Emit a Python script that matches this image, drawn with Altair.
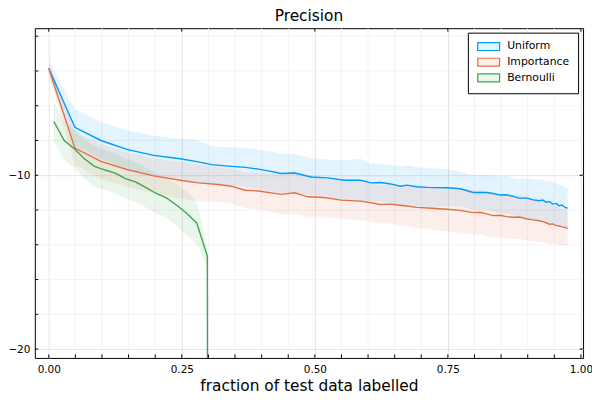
import altair as alt
import pandas as pd

# ---------------- data ----------------
series_names = ["Uniform", "Importance", "Bernoulli"]
line_colors = ["#009AFA", "#E36F47", "#3EA44E"]
band_colors = ["#E3F4FE", "#FCEFEB", "#EAF5EC"]
title_text = ["Precision"]

uniform_x = [0.0, 0.049, 0.098, 0.147, 0.197, 0.247, 0.276, 0.306, 0.343, 0.37,
             0.394, 0.412, 0.437, 0.462, 0.493, 0.524, 0.555, 0.586, 0.605, 0.624,
             0.642, 0.661, 0.673, 0.692, 0.711, 0.748, 0.773, 0.798, 0.823, 0.835,
             0.848, 0.86, 0.873, 0.885, 0.897, 0.91, 0.922, 0.928, 0.935, 0.941,
             0.947, 0.953, 0.959, 0.965, 0.97, 0.975]
uniform_y = [-3.84, -7.24, -8.0, -8.51, -8.86, -9.05, -9.2, -9.39, -9.49, -9.55,
             -9.65, -9.75, -9.9, -9.87, -10.1, -10.15, -10.29, -10.29, -10.44, -10.42,
             -10.5, -10.63, -10.57, -10.66, -10.7, -10.72, -10.78, -10.99, -10.99, -11.05,
             -11.14, -11.12, -11.22, -11.33, -11.3, -11.42, -11.47, -11.43, -11.55, -11.52,
             -11.66, -11.62, -11.75, -11.72, -11.85, -11.9]
uniform_spread = [0.4, 1.05, 1.05, 1.1, 1.15, 1.15, 1.25, 1.06, 1.1, 1.12,
                  1.12, 1.14, 1.14, 1.1, 1.08, 1.05, 1.15, 1.24, 1.1, 1.07,
                  1.1, 1.14, 1.14, 1.12, 1.12, 1.05, 1.0, 0.99, 1.0, 1.05,
                  1.06, 1.08, 1.06, 1.1, 1.15, 1.18, 1.2, 1.22, 1.2, 1.22,
                  1.24, 1.2, 1.18, 1.15, 1.14, 1.14]

importance_x = [0.0, 0.049, 0.098, 0.147, 0.197, 0.247, 0.281, 0.319, 0.343, 0.369,
                0.394, 0.437, 0.462, 0.487, 0.518, 0.549, 0.586, 0.624, 0.642, 0.655,
                0.673, 0.692, 0.72, 0.748, 0.773, 0.798, 0.81, 0.823, 0.835, 0.848,
                0.86, 0.873, 0.885, 0.897, 0.91, 0.922, 0.93, 0.941, 0.947, 0.953,
                0.959, 0.965, 0.97, 0.975]
importance_y = [-3.84, -8.44, -9.2, -9.67, -10.04, -10.29, -10.44, -10.53, -10.63, -10.86,
                -10.91, -11.1, -11.01, -11.24, -11.28, -11.43, -11.49, -11.68, -11.66, -11.71,
                -11.77, -11.85, -11.9, -11.96, -12.02, -12.15, -12.13, -12.22, -12.32, -12.3,
                -12.38, -12.42, -12.4, -12.5, -12.57, -12.62, -12.68, -12.82, -12.8, -12.88,
                -12.92, -12.97, -13.0, -13.07]
importance_spread = [0.3, 0.95, 1.0, 1.0, 1.0, 1.05, 1.05, 1.0, 1.0, 1.02,
                     1.05, 1.15, 1.24, 1.15, 1.1, 1.1, 1.09, 1.1, 1.12, 1.15,
                     1.14, 1.2, 1.25, 1.28, 1.28, 1.27, 1.28, 1.28, 1.28, 1.26,
                     1.26, 1.25, 1.26, 1.26, 1.24, 1.2, 1.18, 1.15, 1.12, 1.1,
                     1.08, 1.05, 1.04, 1.03]

bernoulli_x = [0.0096, 0.029, 0.048, 0.067, 0.086, 0.106, 0.125, 0.144, 0.163, 0.182,
               0.202, 0.221, 0.24, 0.259, 0.278, 0.298, 0.2985]
bernoulli_y = [-6.91, -8.0, -8.47, -9.05, -9.49, -9.7, -9.88, -10.19, -10.38, -10.7,
               -11.05, -11.3, -11.71, -12.19, -12.74, -14.65, -25.0]
bernoulli_spread = [1.1, 1.14, 1.1, 1.12, 1.18, 1.15, 1.15, 1.15, 1.15, 1.14,
                    1.14, 1.15, 1.2, 1.25, 1.2, 0.6]

x_ticks = [0.0, 0.05, 0.1, 0.15, 0.2, 0.25, 0.3, 0.35, 0.4, 0.45, 0.5,
           0.55, 0.6, 0.65, 0.7, 0.75, 0.8, 0.85, 0.9, 0.95, 1.0]
x_major = [0.0, 0.25, 0.5, 0.75, 1.0]
y_ticks = [-2, -4, -6, -8, -10, -12, -14, -16, -18, -20]
y_major = [-10, -20]

# ---------------- tables ----------------
line_rows, band_rows = [], []
for name, xs_, ys_, sp in [("Uniform", uniform_x, uniform_y, uniform_spread),
                           ("Importance", importance_x, importance_y, importance_spread),
                           ("Bernoulli", bernoulli_x, bernoulli_y, bernoulli_spread)]:
    for i, (xv, yv) in enumerate(zip(xs_, ys_)):
        line_rows.append({"series": name, "x": xv, "y": yv})
        if i < len(sp):
            band_rows.append({"series": name, "x": xv, "lo": yv - sp[i], "hi": yv + sp[i]})
line_df = pd.DataFrame(line_rows)
band_df = pd.DataFrame(band_rows)
x_minor_df = pd.DataFrame({"x": [v for v in x_ticks if v not in x_major]})
y_minor_df = pd.DataFrame({"y": [v for v in y_ticks if v not in y_major]})

W, H = 552, 332
XT = "fraction of test data labelled"
xs = alt.Scale(domain=[-0.0262, 1.004], nice=False, zero=False)
ys = alt.Scale(domain=[-20.51, -1.54], nice=False, zero=False)
color_scale = alt.Scale(domain=series_names, range=line_colors)

x_axis = alt.Axis(values=x_major, format=".2f", grid=True, labelPadding=7,
                  labelOverlap=False, labelFlush=False, titlePadding=3)
y_axis = alt.Axis(values=y_major, grid=True, labelPadding=5,
                  labelOverlap=False, labelFlush=False)

leg = alt.Legend(
    title=None, orient="none", legendX=436, legendY=4.5,
    symbolType="M-1,-1L4.5,-1L4.5,1L-1,1Z", symbolSize=64, symbolStrokeWidth=1.2,
    symbolOpacity=1, labelOffset=20.2, labelFontSize=10.9, labelFont="DejaVu Sans",
    labelColor="black", padding=8.5, rowPadding=2.8, strokeColor="black",
    fillColor="white", cornerRadius=0,
)

# layer with no rows that only carries the legend (light fill, coloured outline)
legend_layer = alt.Chart(line_df).transform_filter("false").mark_point(filled=True).encode(
    x=alt.X("x:Q", scale=xs, axis=x_axis, title=XT),
    y=alt.Y("y:Q", scale=ys, axis=y_axis, title=None),
    fill=alt.Fill("series:N", scale=alt.Scale(domain=series_names, range=band_colors), legend=leg),
    stroke=alt.Stroke("series:N", scale=alt.Scale(domain=series_names, range=line_colors), legend=leg),
)

x_minor = alt.Chart(x_minor_df).mark_rule(color="#f0f0f0", strokeWidth=0.8).encode(
    x=alt.X("x:Q", scale=xs, title=XT))
y_minor = alt.Chart(y_minor_df).mark_rule(color="#f0f0f0", strokeWidth=0.8).encode(
    y=alt.Y("y:Q", scale=ys, title=None))

band = alt.Chart(band_df).mark_area(fillOpacity=0.11, clip=True).encode(
    x=alt.X("x:Q", scale=xs, title=XT),
    y=alt.Y("lo:Q", scale=ys, title=None),
    y2="hi:Q",
    color=alt.Color("series:N", scale=color_scale, legend=None),
)

lines = alt.Chart(line_df).mark_line(strokeWidth=1.4, clip=True).encode(
    x=alt.X("x:Q", scale=xs, title=XT),
    y=alt.Y("y:Q", scale=ys, title=None),
    color=alt.Color("series:N", scale=color_scale, legend=None),
)

tick_len = 3.5
bottom_ticks = alt.Chart(pd.DataFrame({"x": x_ticks})).mark_rule(color="black", strokeWidth=1).encode(
    x=alt.X("x:Q", scale=xs, title=XT), y=alt.value(H), y2=alt.value(H - tick_len))
top_ticks = alt.Chart(pd.DataFrame({"x": x_major})).mark_rule(color="black", strokeWidth=1).encode(
    x=alt.X("x:Q", scale=xs, title=XT), y=alt.value(0), y2=alt.value(tick_len))
left_ticks = alt.Chart(pd.DataFrame({"y": y_ticks})).mark_rule(color="black", strokeWidth=1).encode(
    y=alt.Y("y:Q", scale=ys, title=None), x=alt.value(0), x2=alt.value(tick_len))
right_ticks = alt.Chart(pd.DataFrame({"y": y_major})).mark_rule(color="black", strokeWidth=1).encode(
    y=alt.Y("y:Q", scale=ys, title=None), x=alt.value(W), x2=alt.value(W - tick_len))

title_mark = alt.Chart(pd.DataFrame({"t": title_text})).mark_text(
    fontSize=15.5, font="DejaVu Sans", align="center", baseline="alphabetic", color="black"
).encode(text="t:N", x=alt.value(W / 2), y=alt.value(-7.3))

chart = alt.layer(legend_layer, x_minor, y_minor, band, lines, bottom_ticks, top_ticks,
                  left_ticks, right_ticks, title_mark).properties(
    width=W, height=H,
    padding={"left": 27, "top": 19, "right": 9, "bottom": 38},
    autosize="none",
).configure_view(stroke="black", strokeWidth=1).configure_axis(
    domain=False, ticks=False, labelFont="DejaVu Sans", labelFontSize=10.5, labelColor="black",
    titleFont="DejaVu Sans", titleFontSize=15.5, titleFontWeight="normal", titleColor="black",
    gridWidth=0.8, gridColor="#dedede",
)

chart.save("out.html", embed_options={"renderer": "svg", "actions": False})
